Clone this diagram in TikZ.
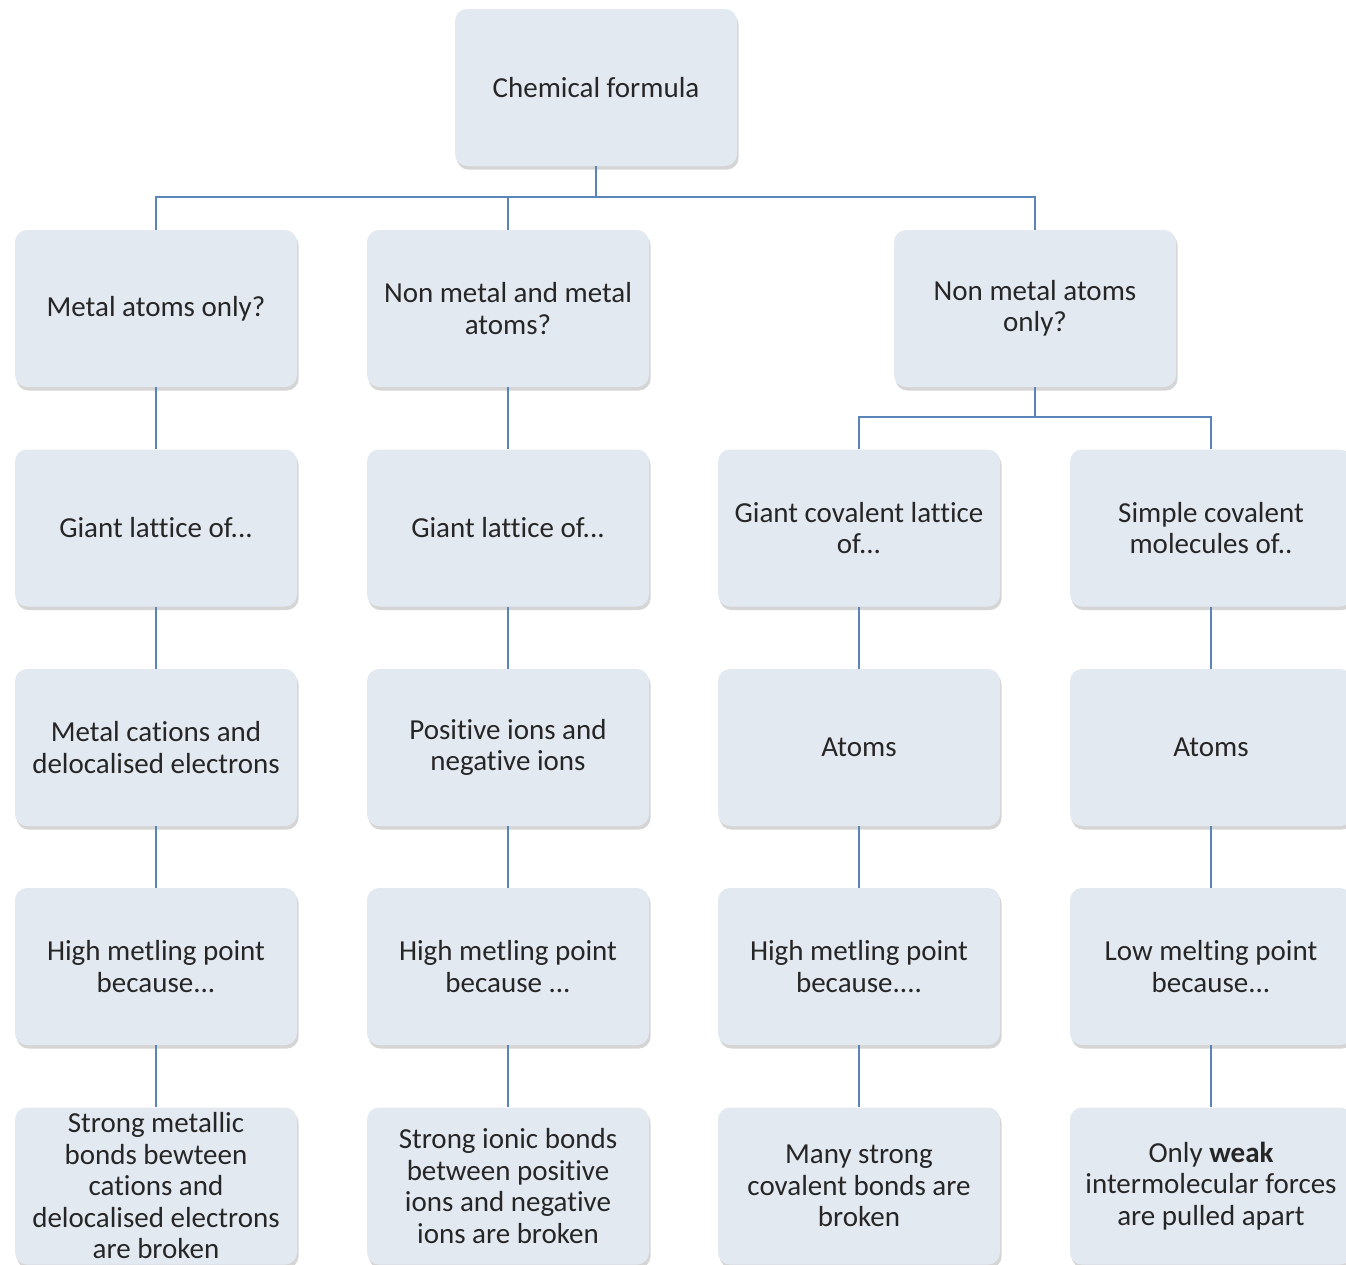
\documentclass[tikz,border=0pt]{standalone}
\usepackage{fontspec}
\setmainfont[RawFeature={-liga;-clig;-calt;-dlig;-rlig}]{Carlito}
\usetikzlibrary{shadows}
\definecolor{boxfill}{HTML}{E3E9F1}
\definecolor{linec}{HTML}{5A85B8}
\definecolor{txt}{HTML}{262626}
\tikzset{
  box/.style={draw=none, fill=boxfill, rounded corners=6pt, minimum width=141pt, minimum height=78.5pt,
    align=center, text=txt, font=\fontsize{14.5}{15.75}\selectfont, inner sep=2pt,
    drop shadow={shadow xshift=0.8pt, shadow yshift=-1.8pt, opacity=0.3, fill=black!55}},
  conn/.style={draw=linec, line width=1.1pt}
}
\begin{document}
\begin{tikzpicture}[x=0.5pt, y=-0.5pt]
\useasboundingbox (0,0) rectangle (1346,1265);
% top
\node[box] (top) at (596,87.5) {Chemical formula};
% row 1
\node[box] (a1) at (156,308.5) {Metal atoms only?};
\node[box] (b1) at (508,308.5) {Non metal and metal\\atoms?};
\node[box] (c1) at (1035,308.5) {Non metal atoms\\only?};
% row 2
\node[box] (a2) at (156,528) {Giant lattice of...};
\node[box] (b2) at (508,528) {Giant lattice of...};
\node[box] (c2) at (859,528) {Giant covalent lattice\\of...};
\node[box] (d2) at (1211,528) {Simple covalent\\molecules of..};
% row 3
\node[box] (a3) at (156,747.5) {Metal cations and\\delocalised electrons};
\node[box] (b3) at (508,747.5) {Positive ions and\\negative ions};
\node[box] (c3) at (859,747.5) {Atoms};
\node[box] (d3) at (1211,747.5) {Atoms};
% row 4
\node[box] (a4) at (156,966.5) {High metling point\\because...};
\node[box] (b4) at (508,966.5) {High metling point\\because ...};
\node[box] (c4) at (859,966.5) {High metling point\\because....};
\node[box] (d4) at (1211,966.5) {Low melting point\\because...};
% row 5
\node[box] (a5) at (156,1186) {Strong metallic\\bonds bewteen\\cations and\\delocalised electrons\\are broken};
\node[box] (b5) at (508,1186) {Strong ionic bonds\\between positive\\ions and negative\\ions are broken};
\node[box] (c5) at (859,1186) {Many strong\\covalent bonds are\\broken};
\node[box] (d5) at (1211,1186) {Only \textbf{weak}\\intermolecular forces\\are pulled apart};
% connectors
\coordinate (bus) at (596,197);
\draw[conn] (top.south) -- (bus);
\draw[conn] (bus) -| (a1.north);
\draw[conn] (bus) -| (b1.north);
\draw[conn] (bus) -| (c1.north);
\coordinate (bus2) at (1035,417);
\draw[conn] (c1.south) -- (bus2);
\draw[conn] (bus2) -| (c2.north);
\draw[conn] (bus2) -| (d2.north);
\draw[conn] (a1.south) -- (a2.north);
\draw[conn] (b1.south) -- (b2.north);
\foreach \c in {a,b,c,d}{
  \draw[conn] (\c2.south) -- (\c3.north);
  \draw[conn] (\c3.south) -- (\c4.north);
  \draw[conn] (\c4.south) -- (\c5.north);
}
\end{tikzpicture}
\end{document}
